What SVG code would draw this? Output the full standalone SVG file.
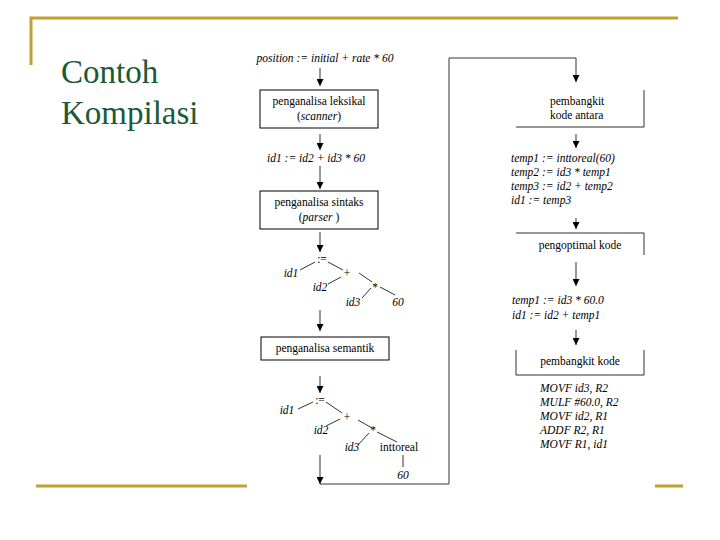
<svg xmlns="http://www.w3.org/2000/svg" width="720" height="540" viewBox="0 0 720 540">
<defs>
<marker id="ah" viewBox="0 0 8 8" refX="8" refY="4" markerWidth="7" markerHeight="7" markerUnits="userSpaceOnUse" orient="auto">
<path d="M0,0 L8,4 L0,8 z" fill="#000"/>
</marker>
</defs>
<rect width="720" height="540" fill="#fff"/>
<g id="frame" stroke="#bfa032" stroke-width="3" fill="none">
<path d="M31,65 V18 H678"/>
<line x1="36" y1="486" x2="247" y2="486"/>
<line x1="655" y1="486" x2="683" y2="486"/>
</g>
<g id="title">
<text style="font-family:'Liberation Serif',serif" font-size="33" fill="#1a5a38" x="61" y="83">Contoh</text>
<text style="font-family:'Liberation Serif',serif" font-size="33" fill="#1a5a38" x="61" y="124">Kompilasi</text>
</g>
<g id="connectors" stroke="#333" stroke-width="1" fill="none">
<line x1="320" y1="68" x2="320" y2="86" marker-end="url(#ah)"/>
<line x1="320" y1="134" x2="320" y2="150" marker-end="url(#ah)"/>
<line x1="320" y1="166" x2="320" y2="189" marker-end="url(#ah)"/>
<line x1="320" y1="232" x2="320" y2="252" marker-end="url(#ah)"/>
<line x1="320" y1="310" x2="320" y2="331" marker-end="url(#ah)"/>
<line x1="320" y1="376" x2="320" y2="393" marker-end="url(#ah)"/>
<line x1="320" y1="455" x2="320" y2="484" marker-end="url(#ah)"/>
<path d="M320,484 H449 V58 H576 V82" marker-end="url(#ah)"/>
<line x1="576" y1="134" x2="576" y2="148" marker-end="url(#ah)"/>
<line x1="576" y1="218" x2="576" y2="229" marker-end="url(#ah)"/>
<line x1="576" y1="262" x2="576" y2="286" marker-end="url(#ah)"/>
<line x1="576" y1="330" x2="576" y2="345" marker-end="url(#ah)"/>
<line x1="300" y1="270" x2="315" y2="262"/>
<line x1="328" y1="262" x2="343" y2="270"/>
<line x1="328" y1="284" x2="341" y2="277"/>
<line x1="359" y1="273" x2="372" y2="282"/>
<line x1="371" y1="288" x2="362" y2="298"/>
<line x1="380" y1="287" x2="395" y2="295"/>
<line x1="298" y1="409" x2="313" y2="402"/>
<line x1="326" y1="402" x2="342" y2="413"/>
<line x1="326" y1="426" x2="340" y2="419"/>
<line x1="358" y1="420" x2="372" y2="428"/>
<line x1="369" y1="433" x2="358" y2="445"/>
<line x1="377" y1="432" x2="397" y2="442"/>
<line x1="403" y1="455" x2="403" y2="467"/>
</g>
<g id="source">
<text style="font-family:'Liberation Serif',serif" font-size="11.5" font-style="italic" text-anchor="middle" x="325" y="62">position := initial + rate * 60</text>
</g>
<g id="lexer">
<rect x="260" y="90" width="118" height="38" fill="#fff" stroke="#000"/>
<text style="font-family:'Liberation Serif',serif" font-size="11.5" text-anchor="middle" x="319" y="105">penganalisa leksikal</text>
<text style="font-family:'Liberation Serif',serif" font-size="11.5" text-anchor="middle" x="319" y="120">(<tspan font-style="italic">scanner</tspan>)</text>
</g>
<g id="tokens">
<text style="font-family:'Liberation Serif',serif" font-size="11.5" font-style="italic" text-anchor="middle" x="316" y="162">id1 := id2 + id3 * 60</text>
</g>
<g id="parser">
<rect x="260" y="191" width="118" height="38" fill="#fff" stroke="#000"/>
<text style="font-family:'Liberation Serif',serif" font-size="11.5" text-anchor="middle" x="319" y="206">penganalisa sintaks</text>
<text style="font-family:'Liberation Serif',serif" font-size="11.5" text-anchor="middle" x="319" y="221">(<tspan font-style="italic">parser</tspan> )</text>
</g>
<g id="tree1">
<text style="font-family:'Liberation Serif',serif" font-size="11.5" text-anchor="middle" x="322" y="263">:=</text>
<text style="font-family:'Liberation Serif',serif" font-size="11.5" font-style="italic" text-anchor="middle" x="291" y="277">id1</text>
<text style="font-family:'Liberation Serif',serif" font-size="11.5" text-anchor="middle" x="347" y="277">+</text>
<text style="font-family:'Liberation Serif',serif" font-size="11.5" font-style="italic" text-anchor="middle" x="320" y="291">id2</text>
<text style="font-family:'Liberation Serif',serif" font-size="11.5" text-anchor="middle" x="375" y="291">*</text>
<text style="font-family:'Liberation Serif',serif" font-size="11.5" font-style="italic" text-anchor="middle" x="353" y="306">id3</text>
<text style="font-family:'Liberation Serif',serif" font-size="11.5" font-style="italic" text-anchor="middle" x="398" y="306">60</text>
</g>
<g id="semantic">
<rect x="261" y="337" width="128" height="23" fill="#fff" stroke="#000"/>
<text style="font-family:'Liberation Serif',serif" font-size="11.5" text-anchor="middle" x="325" y="352">penganalisa semantik</text>
</g>
<g id="tree2">
<text style="font-family:'Liberation Serif',serif" font-size="11.5" text-anchor="middle" x="320" y="404">:=</text>
<text style="font-family:'Liberation Serif',serif" font-size="11.5" font-style="italic" text-anchor="middle" x="287" y="414">id1</text>
<text style="font-family:'Liberation Serif',serif" font-size="11.5" text-anchor="middle" x="347" y="421">+</text>
<text style="font-family:'Liberation Serif',serif" font-size="11.5" font-style="italic" text-anchor="middle" x="321" y="434">id2</text>
<text style="font-family:'Liberation Serif',serif" font-size="11.5" text-anchor="middle" x="373" y="434">*</text>
<text style="font-family:'Liberation Serif',serif" font-size="11.5" font-style="italic" text-anchor="middle" x="352" y="451">id3</text>
<text style="font-family:'Liberation Serif',serif" font-size="11.5" text-anchor="middle" x="399" y="451">inttoreal</text>
<text style="font-family:'Liberation Serif',serif" font-size="11.5" font-style="italic" text-anchor="middle" x="403" y="479">60</text>
</g>
<g id="icg">
<path d="M644,90 V127 H516" fill="none" stroke="#333"/>
<text style="font-family:'Liberation Serif',serif" font-size="11.5" x="550" y="105">pembangkit</text>
<text style="font-family:'Liberation Serif',serif" font-size="11.5" x="550" y="119">kode antara</text>
</g>
<g id="ir1">
<text style="font-family:'Liberation Serif',serif" font-size="11.5" font-style="italic" x="511" y="162">temp1 := inttoreal(60)</text>
<text style="font-family:'Liberation Serif',serif" font-size="11.5" font-style="italic" x="511" y="176">temp2 := id3 * temp1</text>
<text style="font-family:'Liberation Serif',serif" font-size="11.5" font-style="italic" x="511" y="190">temp3 := id2 + temp2</text>
<text style="font-family:'Liberation Serif',serif" font-size="11.5" font-style="italic" x="511" y="204">id1 := temp3</text>
</g>
<g id="optimizer">
<path d="M516,233 H644 V255" fill="none" stroke="#333"/>
<text style="font-family:'Liberation Serif',serif" font-size="11.5" text-anchor="middle" x="580" y="249">pengoptimal kode</text>
</g>
<g id="ir2">
<text style="font-family:'Liberation Serif',serif" font-size="11.5" font-style="italic" x="512" y="304">temp1 := id3 * 60.0</text>
<text style="font-family:'Liberation Serif',serif" font-size="11.5" font-style="italic" x="512" y="319">id1 := id2 + temp1</text>
</g>
<g id="codegen">
<path d="M516,350 V375 H644 V350" fill="none" stroke="#333"/>
<text style="font-family:'Liberation Serif',serif" font-size="11.5" text-anchor="middle" x="580" y="365">pembangkit kode</text>
</g>
<g id="target">
<text style="font-family:'Liberation Serif',serif" font-size="11.5" font-style="italic" x="540" y="392">MOVF id3, R2</text>
<text style="font-family:'Liberation Serif',serif" font-size="11.5" font-style="italic" x="540" y="406">MULF #60.0, R2</text>
<text style="font-family:'Liberation Serif',serif" font-size="11.5" font-style="italic" x="540" y="420">MOVF id2, R1</text>
<text style="font-family:'Liberation Serif',serif" font-size="11.5" font-style="italic" x="540" y="434">ADDF R2, R1</text>
<text style="font-family:'Liberation Serif',serif" font-size="11.5" font-style="italic" x="540" y="448">MOVF R1, id1</text>
</g>
</svg>
